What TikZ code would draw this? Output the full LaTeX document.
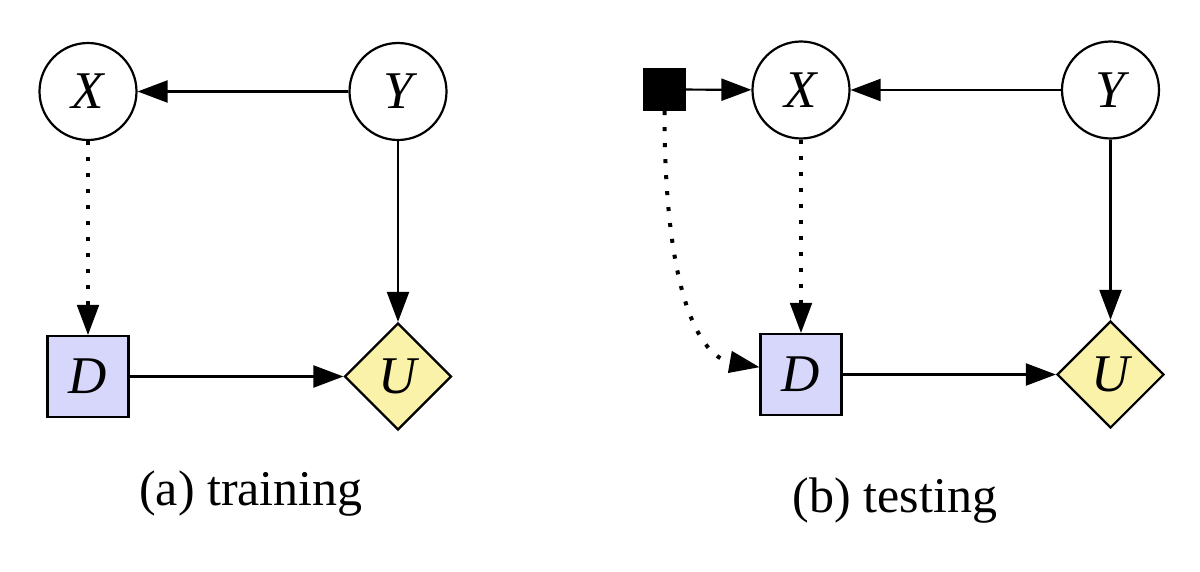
\documentclass[tikz,border=0pt]{standalone}
\usepackage{fontspec}
\setmainfont{Liberation Serif}
\usetikzlibrary{arrows.meta,shapes.geometric}
\definecolor{dfill}{RGB}{214,215,250}
\definecolor{ufill}{RGB}{250,242,168}
\tikzset{
  lbl/.style={font=\fontsize{53}{60}\selectfont\itshape},
  chance/.style={circle,draw,line width=2.2pt,minimum size=97pt,inner sep=0pt,lbl},
  decision/.style={rectangle,draw,line width=2.2pt,fill=dfill,minimum size=81pt,inner sep=0pt,lbl},
  utility/.style={diamond,draw,line width=2.2pt,fill=ufill,minimum width=107pt,minimum height=107pt,inner sep=0pt,lbl},
  blacksq/.style={rectangle,fill=black,minimum size=43pt,inner sep=0pt},
  arr/.style={line width=2.2pt,-{Triangle[length=30pt,width=22pt]}},
  dotarr/.style={line width=4pt,dash pattern=on 4pt off 12pt,-{Triangle[length=30pt,width=22pt,line width=2pt]}},
  caption/.style={font=\fontsize{50}{60}\selectfont,anchor=base,inner sep=0pt}
}
\begin{document}
\begin{tikzpicture}[x=1pt,y=-1pt]
\useasboundingbox (0,0) rectangle (1200,572);
% (a) training
\node[chance] (X1) at (88,91.5) {X};
\node[chance] (Y1) at (398,91.5) {Y};
\node[decision] (D1) at (88,376.5) {D};
\node[utility] (U1) at (398,376.5) {U};
\draw[arr] (Y1) -- (X1);
\draw[arr] (Y1) -- (U1);
\draw[arr] (D1) -- (U1);
\draw[dotarr] (X1) -- (D1);
\node[caption] (capa) at (251,505) {(a) training};
% (b) testing
\node[blacksq] (S2) at (664.5,89.5) {};
\node[chance] (X2) at (801,90) {X};
\node[chance] (Y2) at (1110.5,90) {Y};
\node[decision] (D2) at (801,374.5) {D};
\node[utility] (U2) at (1110.5,374.5) {U};
\draw[arr] (S2) -- (X2);
\draw[arr] (Y2) -- (X2);
\draw[arr] (Y2) -- (U2);
\draw[arr] (D2) -- (U2);
\draw[dotarr] (X2) -- (D2);
\draw[dotarr] (S2.south) to[out=-90,in=170,out looseness=1.9,in looseness=0.5] (D2);
\node[caption] (capb) at (895,512) {(b) testing};
\end{tikzpicture}
\end{document}
